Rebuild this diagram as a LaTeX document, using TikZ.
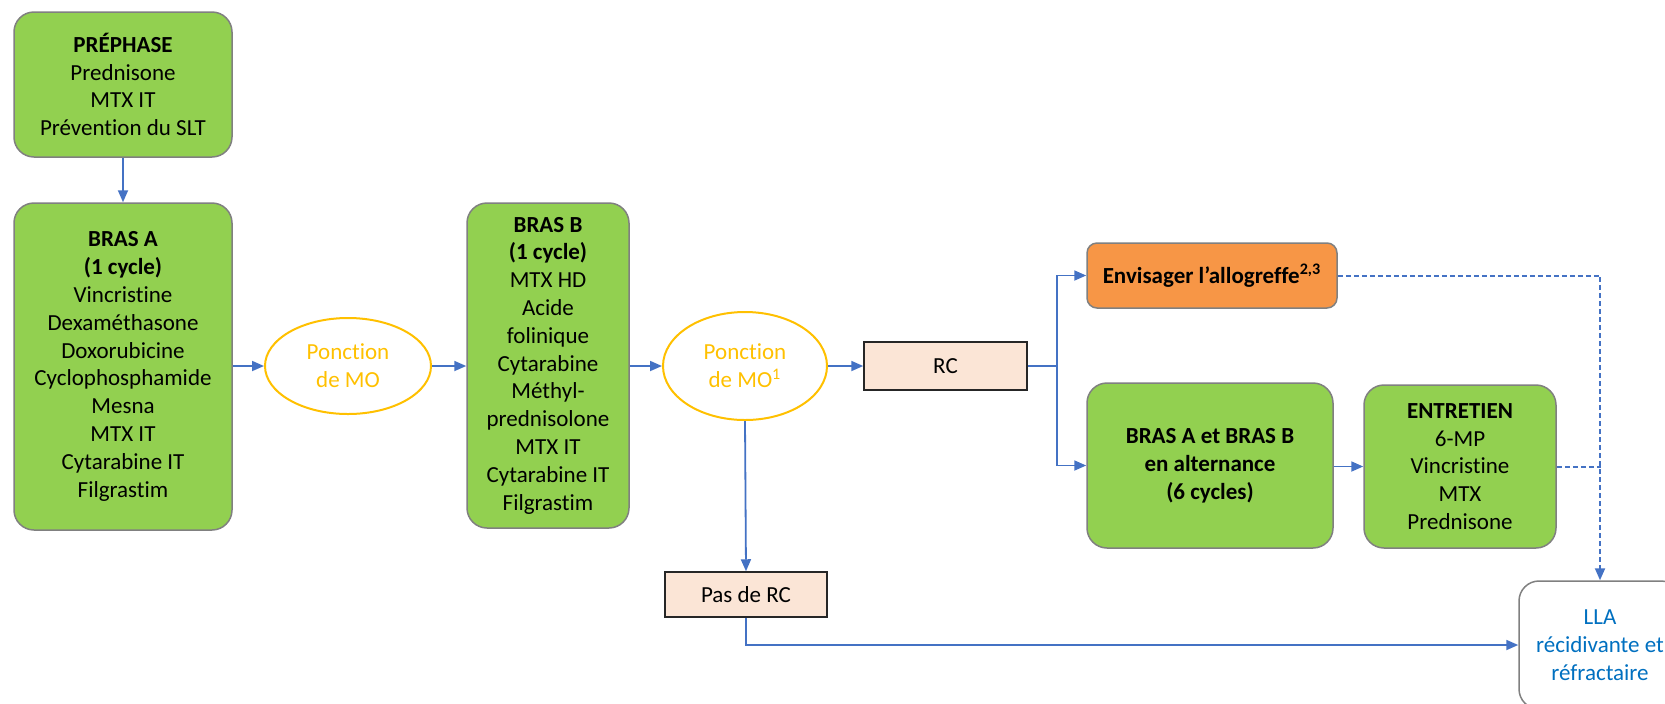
\documentclass[tikz,border=0pt]{standalone}
\usepackage{fontspec}
\setmainfont[Ligatures=NoCommon]{Carlito}
\usetikzlibrary{arrows.meta,shapes.geometric}
\definecolor{boxgreen}{HTML}{92D050}
\definecolor{boxorange}{HTML}{F79646}
\definecolor{boxpeach}{HTML}{FBE5D6}
\definecolor{ringgold}{HTML}{FFC000}
\definecolor{linkblue}{HTML}{4472C4}
\definecolor{textblue}{HTML}{0070C0}
\definecolor{edgegray}{HTML}{808080}
\tikzset{
  txt/.style={font=\fontsize{11.5}{13.9}\selectfont, align=center, inner sep=0pt},
  greenbox/.style={txt, draw=edgegray, line width=0.75pt, fill=boxgreen, rounded corners=10pt},
  orangebox/.style={txt, draw=edgegray, line width=0.75pt, fill=boxorange, rounded corners=5pt},
  peachbox/.style={txt, draw=black!85, line width=0.75pt, fill=boxpeach},
  puncture/.style={txt, ellipse, draw=ringgold, line width=1pt, text=ringgold},
  outcome/.style={txt, draw=edgegray, line width=0.75pt, fill=white, rounded corners=10pt, text=textblue},
  link/.style={draw=linkblue, line width=0.9pt, -{Triangle[width=5pt,length=6pt]}},
  plainlink/.style={draw=linkblue, line width=0.9pt},
  dotlink/.style={draw=linkblue, line width=1pt, dash pattern=on 2.5pt off 1.5pt},
}
\begin{document}
\begin{tikzpicture}[x=0.5pt, y=-0.5pt]
\useasboundingbox (0,0) rectangle (1665,703);
\clip (0,0) rectangle (1665,703);

% treatment blocks
\node[greenbox, minimum width=109pt, minimum height=72.5pt] (pre) at (123,84.5)
  {\textbf{PRÉPHASE}\\Prednisone\\MTX IT\\Prévention du SLT};
\node[greenbox, minimum width=109pt, minimum height=163.5pt] (brasA) at (123,366.5)
  {\textbf{BRAS A}\\\textbf{(1 cycle)}\\Vincristine\\Dexaméthasone\\Doxorubicine\\Cyclophosphamide\\Mesna\\MTX IT\\Cytarabine IT\\Filgrastim};
\node[puncture, minimum width=83pt, minimum height=48pt] (mo1) at (348,366)
  {Ponction\\de MO};
\node[greenbox, minimum width=81pt, minimum height=162.5pt] (brasB) at (548,365.5)
  {\textbf{BRAS B}\\\textbf{(1 cycle)}\\MTX HD\\Acide\\folinique\\Cytarabine\\Méthyl-\\prednisolone\\MTX IT\\Cytarabine IT\\Filgrastim};
\node[puncture, minimum width=82pt, minimum height=54pt] (mo2) at (745,366)
  {Ponction\\de MO\textsuperscript{1}};

% response assessment
\node[peachbox, minimum width=81.5pt, minimum height=24pt] (rc) at (945.5,366) {RC};
\node[peachbox, minimum width=81pt, minimum height=22.5pt] (norc) at (746,594.5) {Pas de RC};

% consolidation and maintenance
\node[orangebox, minimum width=125pt, minimum height=32.5pt] (allo) at (1212,275.5)
  {\textbf{Envisager l’allogreffe\textsuperscript{2,3}}};
\node[greenbox, minimum width=123pt, minimum height=82.5pt] (alt) at (1210,465.5)
  {\textbf{BRAS A et BRAS B}\\\textbf{en alternance}\\\textbf{(6 cycles)}};
\node[greenbox, minimum width=96pt, minimum height=81.5pt] (ent) at (1460,466.5)
  {\textbf{ENTRETIEN}\\6-MP\\Vincristine\\MTX\\Prednisone};
\node[outcome, minimum width=81pt, minimum height=64pt] (lla) at (1600,645)
  {LLA\\récidivante et\\réfractaire};

% main sequence
\draw[link] (pre) -- (brasA);
\draw[link] (brasA.east |- mo1.west) -- (mo1.west);
\draw[link] (mo1.east) -- (brasB.west |- mo1.east);
\draw[link] (brasB.east |- mo2.west) -- (mo2.west);
\draw[link] (mo2.east) -- (rc.west);
\draw[link] (mo2.south) -- (norc.north);

% branching after remission
\coordinate (split) at (1057,366);
\draw[plainlink] (rc.east) -- (split);
\draw[link] (split) |- (allo.west);
\draw[link] (split) |- (alt.west);
\draw[link] (alt.east |- ent.west) -- (ent.west);

% relapse paths
\coordinate (drop) at (1601,466.5);
\draw[dotlink, -{Triangle[width=5pt,length=6pt]}] (allo.east) -| (lla.north);
\draw[dotlink] (ent.east) -- (drop);
\draw[link] (norc.south) |- (lla.west);
\end{tikzpicture}
\end{document}
